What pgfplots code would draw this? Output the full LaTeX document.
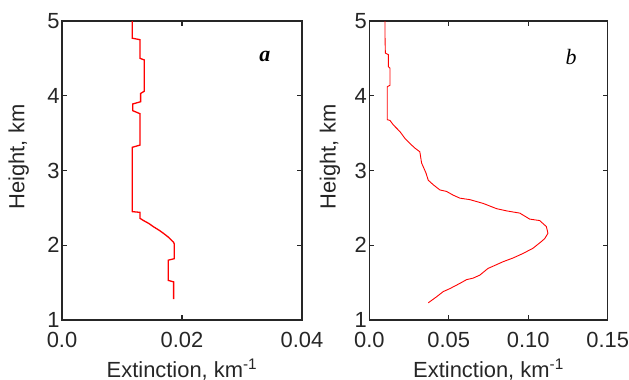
\documentclass[border=0pt]{standalone}
\usepackage{fontspec}
\setmainfont{Liberation Sans}
\newfontfamily\serifit{Liberation Serif}
\usepackage{pgfplots}
\pgfplotsset{compat=1.18}
\begin{document}
\begin{tikzpicture}
\useasboundingbox (0,0) rectangle (629bp,380bp);
\pgfplotsset{panel/.style={
  scale only axis, height=299bp, ymin=1, ymax=5, ytick={1,2,3,4,5},
  scaled x ticks=false,
  tick align=inside, major tick length=5bp,
  axis line style={line width=1.1bp, black!85},
  every tick/.style={line width=1.1bp, black!85},
  tick label style={font=\fontsize{22}{26}\selectfont, text=black!85},
  xticklabel style={yshift=-9bp},
  yticklabel style={xshift=1bp},
  label style={font=\fontsize{22}{26}\selectfont, text=black!85},
  /pgf/number format/assume math mode=true,
  ylabel={Height, km},
  xlabel={Extinction, km\textsuperscript{-1}},
  xlabel style={at={(axis description cs:0.5,-0.192)}, anchor=base},
  anchor=south west,
}}
\begin{axis}[panel, at={(62bp,60bp)}, width=240bp,
  xmin=0, xmax=0.04, xtick={0,0.02,0.04}, xticklabels={0.0,0.02,0.04},
  ylabel style={at={(axis description cs:-0.18,0.545)}, anchor=center, rotate=0}]
\addplot[red, line width=1.3bp] coordinates {
(0.0117,5.00) (0.0117,4.77) (0.0130,4.75) (0.0130,4.50) (0.0137,4.48)
(0.0137,4.06) (0.0131,4.03) (0.0131,3.92) (0.0118,3.89) (0.0118,3.80)
(0.0130,3.76) (0.0130,3.34) (0.0117,3.31) (0.0117,2.45) (0.0130,2.44)
(0.0130,2.36) (0.0136,2.33) (0.0145,2.29) (0.0152,2.25) (0.0162,2.20)
(0.0169,2.16) (0.0177,2.11) (0.0186,2.04) (0.0187,2.02) (0.0187,1.82)
(0.0177,1.80) (0.0177,1.53) (0.0186,1.51) (0.0186,1.28)
};
\node at (axis cs:0.0338,4.525) {\fontsize{22}{26}\selectfont\serifit\itshape\bfseries a};
\end{axis}
\begin{axis}[panel, at={(369.3bp,60bp)}, width=238.4bp,
  xmin=0, xmax=0.15, xtick={0,0.05,0.10,0.15}, xticklabels={0.0,0.05,0.10,0.15},
  ylabel style={at={(axis description cs:-0.165,0.545)}, anchor=center, rotate=0}]
\addplot[red, line width=0.9bp] coordinates {
(0.0099,5.00) (0.0099,4.78) (0.0101,4.57) (0.0120,4.55) (0.0120,4.39)
(0.0130,4.37) (0.0130,4.14) (0.0113,4.12) (0.0113,3.68) (0.0130,3.67)
(0.0151,3.61) (0.0193,3.52) (0.0224,3.43) (0.0256,3.36) (0.0287,3.30)
(0.0318,3.25) (0.0329,3.10) (0.0356,2.97) (0.0371,2.87) (0.0402,2.81)
(0.0444,2.74) (0.0486,2.72) (0.0528,2.67) (0.0570,2.63) (0.0633,2.61)
(0.0716,2.56) (0.0800,2.49) (0.0863,2.46) (0.0947,2.43) (0.1009,2.35)
(0.1072,2.33) (0.1114,2.25) (0.1124,2.16) (0.1104,2.09) (0.1083,2.05)
(0.1030,1.96) (0.0967,1.89) (0.0905,1.83) (0.0842,1.78) (0.0800,1.74)
(0.0747,1.69) (0.0695,1.60) (0.0653,1.56) (0.0612,1.54) (0.0570,1.49)
(0.0507,1.42) (0.0465,1.38) (0.0423,1.31) (0.0371,1.23)
};
\node at (axis cs:0.127,4.525) {\fontsize{22}{26}\selectfont\serifit\itshape b};
\end{axis}
\end{tikzpicture}
\end{document}
